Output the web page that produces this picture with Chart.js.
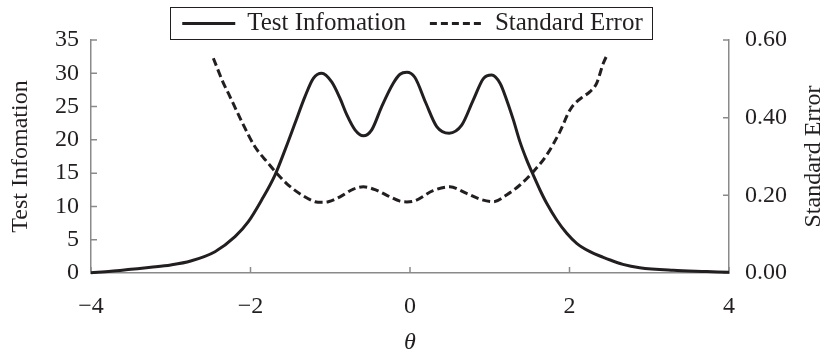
<!DOCTYPE html>
<html>
<head>
<meta charset="utf-8">
<script src="https://cdn.jsdelivr.net/npm/chart.js@4.4.0/dist/chart.umd.min.js"></script>
<style>
  body { margin: 0; background: #fff; }
  #wrap { width: 828px; height: 358px; }
</style>
</head>
<body>
<div id="wrap"><canvas id="grafico" width="828" height="358"></canvas></div>
<script>
// theta and test information
var thetaInfo = [-4.0, -3.75, -3.5, -3.25, -3.0, -2.75, -2.445, -2.194, -2.027, -1.86, -1.693, -1.567, -1.442,
    -1.317, -1.212, -1.107, -0.982, -0.88, -0.79, -0.69, -0.585, -0.48, -0.355, -0.21, -0.125, -0.04,
    0.06, 0.2, 0.335, 0.49, 0.648, 0.794, 0.92, 1.024, 1.129, 1.212, 1.296, 1.379, 1.463, 1.546, 1.63,
    1.714, 1.84, 1.965, 2.09, 2.257, 2.424, 2.51, 2.67, 2.88, 3.3, 3.72, 4.0]
var infoValues = [0.05, 0.25, 0.55, 0.85, 1.2, 1.8, 3.2, 5.45, 7.7, 10.96, 14.7, 18.5, 22.5,
    26.5, 29.25, 30.0, 28.7, 26.3, 23.7, 21.5, 20.6, 21.5, 25.0, 28.5, 29.85, 30.15,
    29.4, 25.5, 22.0, 21.0, 22.2, 26.0, 29.2, 29.74, 28.5, 26.0, 23.0, 19.7, 17.0, 14.7, 12.47,
    10.47, 7.96, 5.96, 4.46, 3.2, 2.35, 1.95, 1.3, 0.8, 0.4, 0.22, 0.1]

// theta and standard error
var thetaSE = [-2.466, -2.34, -2.278, -2.11, -1.944, -1.777, -1.672, -1.526, -1.358, -1.191, -1.107, -1.024,
    -0.878, -0.71, -0.585, -0.418, -0.25, -0.125, -0.04, 0.06, 0.29, 0.5, 0.71, 0.878, 1.045, 1.21,
    1.379, 1.546, 1.714, 1.88, 2.006, 2.09, 2.17, 2.257, 2.34, 2.424, 2.47]
var seValues = [0.553, 0.489, 0.463, 0.39, 0.325, 0.2825, 0.257, 0.2266, 0.201, 0.1836, 0.182, 0.1836,
    0.196, 0.216, 0.222, 0.213, 0.196, 0.185, 0.183, 0.186, 0.212, 0.222, 0.205, 0.19, 0.1836, 0.201,
    0.2266, 0.261, 0.304, 0.364, 0.42, 0.441, 0.454, 0.467, 0.4885, 0.54, 0.561]

var xTicks = [-4, -2, 0, 2, 4]
var leftTicks = [0, 5, 10, 15, 20, 25, 30, 35]
var rightTicks = [0, 0.2, 0.4, 0.6]

var nomeInfo = 'Test Infomation'
var nomeSE = 'Standard Error'

var corLinha = '#231f20'
var corEixo = '#8a8a8a'
var fonte = '"Liberation Serif", "Times New Roman", serif'

function pontos(xs, ys) {
    var lista = []
    for (var i = 0; i < xs.length; i++) {
        lista.push({x: xs[i], y: ys[i]})
    }
    return lista
}

function fixaTicks(valores) {
    return function(scale) {
        scale.ticks = valores.map(function(v) { return {value: v} })
    }
}

// tick marks pointing into the plot
var marcasInternas = {
    id: 'marcasInternas',
    beforeDatasetsDraw: function(chart) {
        var ctx = chart.ctx
        var area = chart.chartArea
        var sx = chart.scales.x, sy = chart.scales.y, sy1 = chart.scales.y1
        ctx.save()
        ctx.strokeStyle = corEixo
        ctx.lineWidth = 1.5
        ctx.beginPath()
        xTicks.forEach(function(v) {
            var px = sx.getPixelForValue(v)
            ctx.moveTo(px, area.bottom)
            ctx.lineTo(px, area.bottom - 6)
        })
        leftTicks.forEach(function(v) {
            var py = sy.getPixelForValue(v)
            ctx.moveTo(area.left, py)
            ctx.lineTo(area.left + 6, py)
        })
        rightTicks.forEach(function(v) {
            var py = sy1.getPixelForValue(v)
            ctx.moveTo(area.right, py)
            ctx.lineTo(area.right - 6, py)
        })
        ctx.stroke()
        ctx.restore()
    }
}

// boxed legend and the right-hand title (reads bottom to top)
var legendaCaixa = {
    id: 'legendaCaixa',
    afterDraw: function(chart) {
        var ctx = chart.ctx
        var area = chart.chartArea
        ctx.save()
        ctx.fillStyle = corLinha
        ctx.textBaseline = 'middle'
        ctx.font = '25px ' + fonte

        var w1 = ctx.measureText(nomeInfo).width
        var w2 = ctx.measureText(nomeSE).width
        var amostra = 53, gap = 12, entre = 24, padE = 12, padD = 10
        var total = padE + amostra + gap + w1 + entre + amostra + gap + w2 + padD
        var x0 = (area.left + area.right) / 2 + 1.5 - total / 2
        var yTopo = 7, altura = 32, yMeio = 23.5

        ctx.strokeStyle = corLinha
        ctx.lineWidth = 1
        ctx.strokeRect(Math.round(x0) + 0.5, yTopo + 0.5, Math.round(total), altura)

        var x = x0 + padE
        ctx.lineWidth = 3
        ctx.beginPath()
        ctx.moveTo(x, yMeio)
        ctx.lineTo(x + amostra, yMeio)
        ctx.stroke()
        x += amostra + gap
        ctx.textAlign = 'left'
        ctx.fillText(nomeInfo, x, yMeio)
        x += w1 + entre

        ctx.setLineDash([7, 4])
        ctx.beginPath()
        ctx.moveTo(x, yMeio)
        ctx.lineTo(x + amostra, yMeio)
        ctx.stroke()
        ctx.setLineDash([])
        x += amostra + gap
        ctx.fillText(nomeSE, x, yMeio)

        ctx.font = '24px ' + fonte
        ctx.translate(814, (area.top + area.bottom) / 2)
        ctx.rotate(-Math.PI / 2)
        ctx.textAlign = 'center'
        ctx.fillText(nomeSE, 0, 0)
        ctx.restore()
    }
}

var ctx = document.getElementById('grafico')
var chart = new Chart(ctx, {
    type: 'line',
    data: {
        datasets: [{
            label: nomeInfo,
            data: pontos(thetaInfo, infoValues),
            yAxisID: 'y',
            borderColor: corLinha,
            borderWidth: 3,
            pointRadius: 0,
            cubicInterpolationMode: 'monotone',
            fill: false,
            clip: false
        }, {
            label: nomeSE,
            data: pontos(thetaSE, seValues),
            yAxisID: 'y1',
            borderColor: corLinha,
            borderWidth: 3,
            borderDash: [8, 4],
            pointRadius: 0,
            cubicInterpolationMode: 'monotone',
            fill: false,
            clip: false
        }]
    },
    options: {
        responsive: false,
        animation: false,
        layout: { padding: { top: 40, left: 0, right: 0, bottom: 0 } },
        plugins: {
            legend: { display: false },
            tooltip: { enabled: false }
        },
        scales: {
            x: {
                type: 'linear',
                min: -4,
                max: 4,
                afterBuildTicks: fixaTicks(xTicks),
                afterFit: function(scale) { scale.height = 85 },
                grid: { display: false, drawTicks: false },
                border: { display: true, color: corEixo, width: 1.5 },
                ticks: {
                    padding: 19,
                    color: corLinha,
                    font: { family: fonte, size: 24 },
                    callback: function(v) { return String(v).replace('-', '\u2212') }
                },
                title: {
                    display: true,
                    text: '\u03b8',
                    color: corLinha,
                    font: { family: fonte, size: 24, style: 'italic' },
                    padding: { top: 0, bottom: 1 }
                }
            },
            y: {
                type: 'linear',
                position: 'left',
                min: 0,
                max: 35,
                afterBuildTicks: fixaTicks(leftTicks),
                afterFit: function(scale) { scale.width = 91 },
                grid: { display: false, drawTicks: false },
                border: { display: true, color: corEixo, width: 1.5 },
                ticks: {
                    padding: 12,
                    color: corLinha,
                    font: { family: fonte, size: 24 }
                },
                title: {
                    display: true,
                    text: nomeInfo,
                    color: corLinha,
                    font: { family: fonte, size: 24 },
                    padding: { top: 6, bottom: 0 }
                }
            },
            y1: {
                type: 'linear',
                position: 'right',
                min: 0,
                max: 0.6,
                afterBuildTicks: fixaTicks(rightTicks),
                afterFit: function(scale) { scale.width = 99 },
                grid: { display: false, drawTicks: false },
                border: { display: true, color: corEixo, width: 1.5 },
                ticks: {
                    padding: 16,
                    color: corLinha,
                    font: { family: fonte, size: 24 },
                    callback: function(v) { return v.toFixed(2) }
                }
            }
        }
    },
    plugins: [marcasInternas, legendaCaixa]
})
</script>
</body>
</html>
